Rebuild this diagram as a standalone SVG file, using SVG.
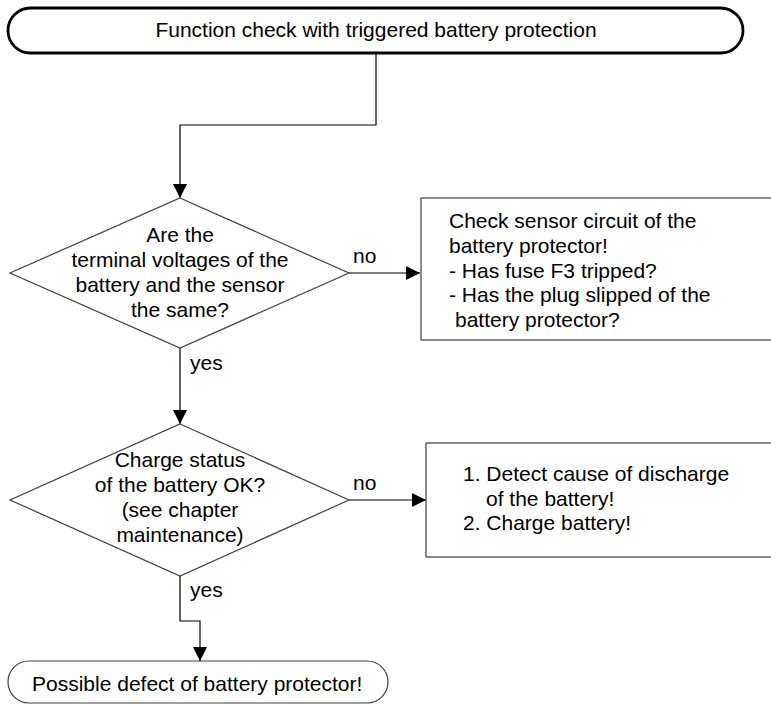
<svg xmlns="http://www.w3.org/2000/svg" width="771" height="704" viewBox="0 0 771 704">
<defs>
<style>
text{font-family:"Liberation Sans",Arial,sans-serif;font-size:21px;fill:#000}
.c{text-anchor:middle}
.shape{fill:#fff;stroke:#404040;stroke-width:1.2}
.term{fill:#fff;stroke:#000;stroke-width:2.8}
.line{fill:none;stroke:#000;stroke-width:1.2}
</style>
<marker id="ah" viewBox="0 0 14 14" refX="14" refY="7" markerWidth="14" markerHeight="14" markerUnits="userSpaceOnUse" orient="auto">
<path d="M0,0 L14,7 L0,14 Z" fill="#000"/>
</marker>
</defs>
<rect width="771" height="704" fill="#fff"/>
<g id="connectors">
<polyline class="line" points="376,53 376,125 180,125 180,198" marker-end="url(#ah)"/>
<line class="line" x1="349" y1="273" x2="420" y2="273" marker-end="url(#ah)"/>
<line class="line" x1="180" y1="348" x2="180" y2="424" marker-end="url(#ah)"/>
<line class="line" x1="349" y1="500" x2="426" y2="500" marker-end="url(#ah)"/>
<polyline class="line" points="180,576 180,621 200,621 200,661" marker-end="url(#ah)"/>
<text x="353" y="263">no</text>
<text x="190" y="370">yes</text>
<text x="353" y="490">no</text>
<text x="190" y="597">yes</text>
</g>
<g id="start">
<rect class="term" x="8" y="8" width="735" height="45" rx="22.5"/>
<text class="c" x="376" y="37">Function check with triggered battery protection</text>
</g>
<g id="decision1">
<polygon class="shape" points="180,198 349,273 180,348 10,273"/>
<text class="c" x="180" y="242">Are the</text>
<text class="c" x="180" y="267">terminal voltages of the</text>
<text class="c" x="180" y="292">battery and the sensor</text>
<text class="c" x="180" y="317">the same?</text>
</g>
<g id="box1">
<rect class="shape" x="421" y="198" width="360" height="142"/>
<text x="449" y="228">Check sensor circuit of the</text>
<text x="449" y="253">battery protector!</text>
<text x="449" y="278">- Has fuse F3 tripped?</text>
<text x="449" y="302">- Has the plug slipped of the</text>
<text x="455" y="327">battery protector?</text>
</g>
<g id="decision2">
<polygon class="shape" points="180,424 349,500 180,576 10,500"/>
<text class="c" x="180" y="467">Charge status</text>
<text class="c" x="180" y="492">of the battery OK?</text>
<text class="c" x="180" y="517">(see chapter</text>
<text class="c" x="180" y="542">maintenance)</text>
</g>
<g id="box2">
<rect class="shape" x="426" y="443" width="360" height="114"/>
<text x="463" y="481">1. Detect cause of discharge</text>
<text x="486" y="506">of the battery!</text>
<text x="463" y="530">2. Charge battery!</text>
</g>
<g id="end">
<rect class="shape" x="8" y="661" width="380" height="42" rx="21"/>
<text x="32" y="691">Possible defect of battery protector!</text>
</g>
</svg>
